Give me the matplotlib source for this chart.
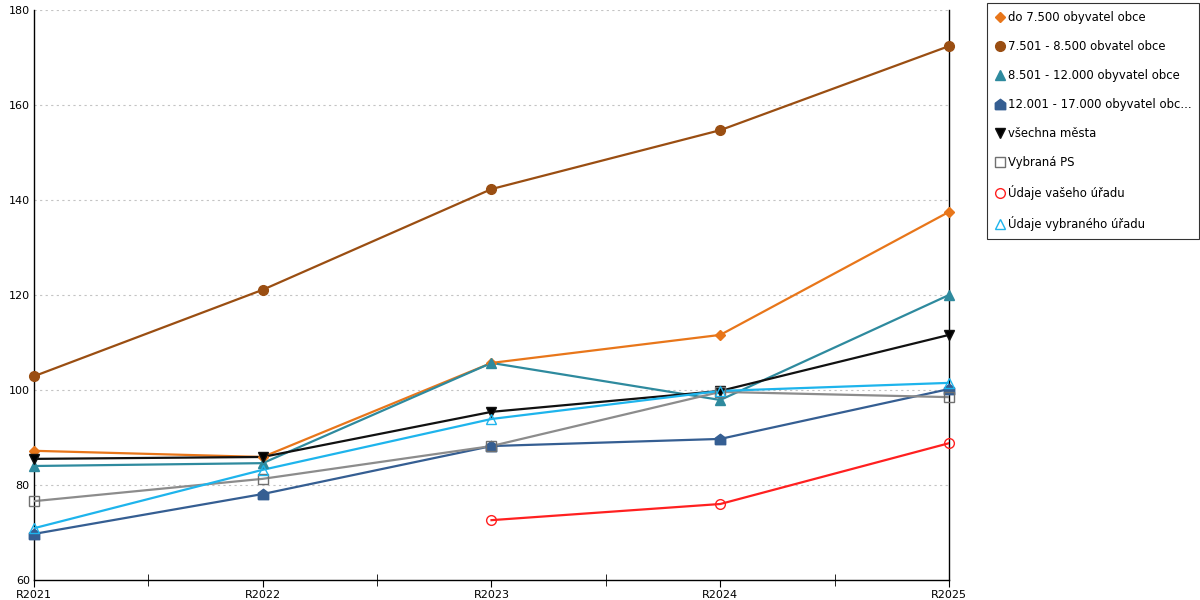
import numpy as np
import matplotlib
matplotlib.use("Agg")
import matplotlib.pyplot as plt

# data
years = ["R2021", "R2022", "R2023", "R2024", "R2025"]
do_7500 = [87.2, 85.9, 105.7, 111.6, 137.5]
od_7501 = [102.9, 121.1, 142.3, 154.7, 172.4]
od_8501 = [84.0, 84.6, 105.7, 97.9, 120.0]
od_12001 = [69.7, 78.1, 88.2, 89.7, 100.2]
vsechna = [85.5, 85.9, 95.4, 99.8, 111.6]
vybrana_ps = [76.6, 81.3, 88.2, 99.6, 98.5]
vas_urad = [np.nan, np.nan, 72.6, 76.0, 88.8]
vybrany_urad = [70.9, 83.2, 93.9, 99.8, 101.5]

# "domek" marker
house = [(-1, -1), (1, -1), (1, 0.25), (0, 1), (-1, 0.25), (-1, -1)]

series = [
    ("do 7.500 obyvatel obce", do_7500, "#E8761A", "D", "#E8761A", 5.5),
    ("7.501 - 8.500 obvatel obce", od_7501, "#9A4E12", "o", "#9A4E12", 7),
    ("8.501 - 12.000 obyvatel obce", od_8501, "#2E8A9E", "^", "#2E8A9E", 7.5),
    ("12.001 - 17.000 obyvatel obc...", od_12001, "#355E92", house, "#355E92", 7.5),
    ("všechna města", vsechna, "#111111", "v", "#000000", 7.5),
    ("Vybraná PS", vybrana_ps, "#8C8C8C", "s", "none", 7),
    ("Údaje vašeho úřadu", vas_urad, "#FF2020", "o", "none", 7),
    ("Údaje vybraného úřadu", vybrany_urad, "#1EB4EC", "^", "none", 7.5),
]

fig = plt.figure(figsize=(12, 6), dpi=100)
ax = fig.add_axes([34 / 1200, 20 / 600, 915 / 1200, 570 / 600])

x = np.arange(len(years))
handles = []
for label, vals, col, mk, face, ms in series:
    edge = col
    if label == "Vybraná PS":
        edge = "#707070"
    ax.plot(x, vals, color=col, lw=1.6, zorder=3)
    ax.plot(x, vals, ls="none", marker=mk, markersize=ms, markerfacecolor=face,
            markeredgecolor=edge, markeredgewidth=1.0, zorder=4, clip_on=False)
    h, = ax.plot([], [], ls="none", marker=mk, markersize=ms, markerfacecolor=face,
                 markeredgecolor=edge, markeredgewidth=1.0, label=label)
    handles.append(h)

ax.set_xlim(0, len(years) - 1)
ax.set_ylim(60, 180)
ax.set_yticks([60, 80, 100, 120, 140, 160, 180])
ax.set_xticks(x)
ax.set_xticklabels(years)
ax.set_xticks(x[:-1] + 0.5, minor=True)
ax.tick_params(axis="x", which="major", direction="out", length=5, labelsize=8, pad=2)
ax.tick_params(axis="x", which="minor", direction="inout", length=8)
ax.tick_params(axis="y", length=0, labelsize=8, pad=3)

for v in [80, 100, 120, 140, 160, 180]:
    ax.axhline(v, color="#c4c4c4", lw=0.8, ls=(0, (2, 3)), zorder=1)

ax.spines["top"].set_visible(False)
for s in ["left", "bottom", "right"]:
    ax.spines[s].set_color("black")
    ax.spines[s].set_linewidth(1.0)

leg = fig.legend(handles=handles, loc="upper left", bbox_to_anchor=(987 / 1200, 597 / 600),
                 borderaxespad=0, frameon=True, fancybox=False, fontsize=8.4,
                 labelspacing=1.38, handletextpad=0.25, handlelength=0.9,
                 borderpad=0.65)
leg.get_frame().set_edgecolor("black")
leg.get_frame().set_linewidth(0.8)

fig.savefig("out.png", dpi=100)
